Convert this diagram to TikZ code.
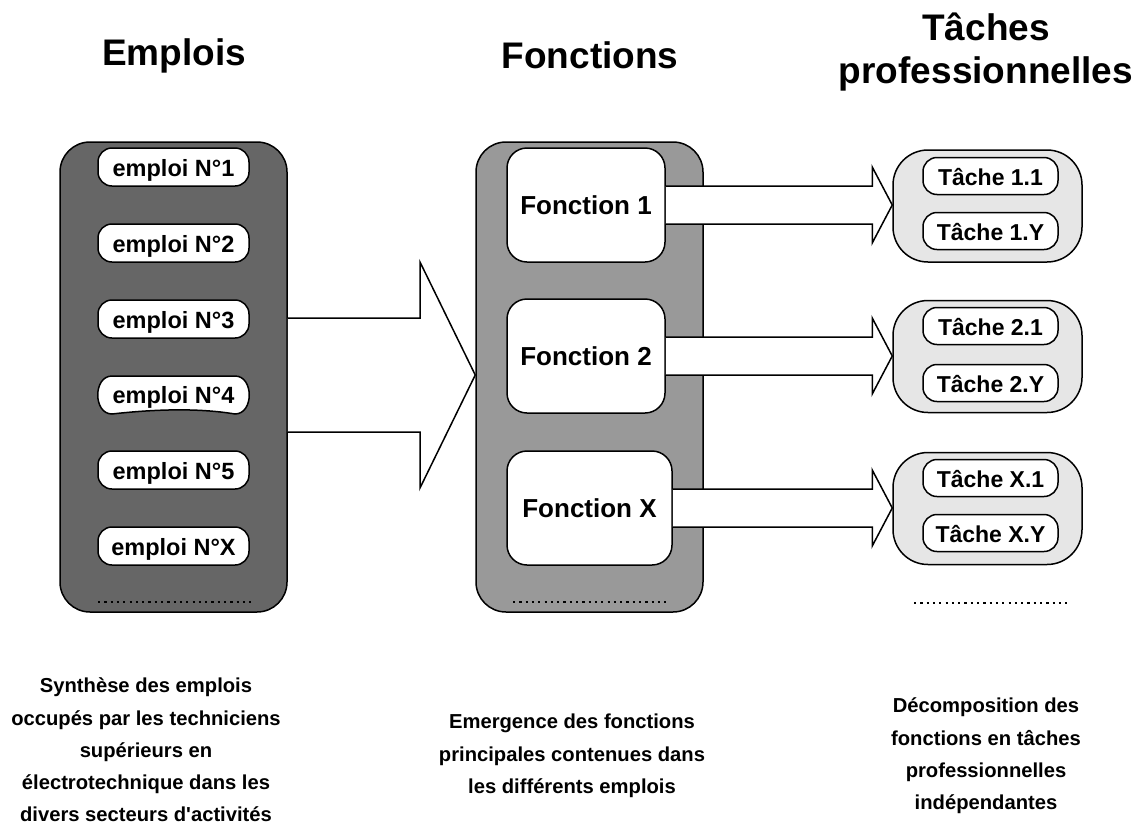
\documentclass[tikz,border=0pt]{standalone}
\usepackage{fontspec}
\setmainfont{Liberation Sans}[Ligatures=TeXOff]
\usetikzlibrary{calc}
\definecolor{darkg}{HTML}{666666}
\definecolor{midg}{HTML}{999999}
\definecolor{lightg}{HTML}{E6E6E6}
\newcommand\flecheS[2]{%
  \fill[white] ($(#1.east)+(0,-19)$) -- ($(#1.east -| #2.west)+(-20,-19)$) -- ($(#1.east -| #2.west)+(-20,-38)$)
    -- (#1.east -| #2.west) -- ($(#1.east -| #2.west)+(-20,38)$) -- ($(#1.east -| #2.west)+(-20,19)$) -- ($(#1.east)+(0,19)$) -- cycle;
  \draw[outline] ($(#1.east)+(0,-19)$) -- ($(#1.east -| #2.west)+(-20,-19)$) -- ($(#1.east -| #2.west)+(-20,-38)$)
    -- (#1.east -| #2.west) -- ($(#1.east -| #2.west)+(-20,38)$) -- ($(#1.east -| #2.west)+(-20,19)$) -- ($(#1.east)+(0,19)$);
}
\begin{document}
\begin{tikzpicture}[x=1pt,y=-1pt,line join=miter,
  outline/.style={draw=black,line width=1.5pt},
  bigbox/.style={outline,rounded corners=30pt,minimum width=227pt,minimum height=470pt,inner sep=0pt},
  pill/.style={outline,fill=white,rounded corners=14pt,minimum width=151pt,minimum height=38pt,inner sep=0pt,text height=19pt,text depth=0pt,font=\fontsize{23.5}{27}\selectfont\bfseries},
  pilltext/.style={inner sep=0pt,text height=19pt,text depth=0pt,font=\fontsize{23.5}{27}\selectfont\bfseries},
  fbox/.style={outline,fill=white,rounded corners=20pt,minimum height=114pt,inner sep=0pt,font=\fontsize{26}{30}\selectfont\bfseries},
  gbox/.style={outline,fill=lightg,rounded corners=35pt,minimum width=189pt,minimum height=112pt,inner sep=0pt},
  tpill/.style={outline,fill=white,rounded corners=14pt,minimum width=135pt,minimum height=37pt,inner sep=0pt,text height=18.5pt,text depth=0pt,font=\fontsize{23}{27}\selectfont\bfseries},
  title/.style={inner sep=0pt,align=center,font=\fontsize{37}{43}\selectfont\bfseries},
  caption/.style={inner sep=0pt,align=center,font=\fontsize{20.2}{32.3}\selectfont\bfseries},
  dots/.style={line width=2.2pt,dash pattern=on 2.2pt off 4.1pt}
]
\useasboundingbox (0,0) rectangle (1137,825);

% titles
\node[title] (t1) at (174,56) {Emplois};
\node[title] (t2) at (590,55) {Fonctions};
\node[title] (t3) at (986,52) {Tâches\\professionnelles};

% big boxes
\node[bigbox,fill=darkg] (emplois) at (173.5,377) {};
\node[bigbox,fill=midg] (fonctions) at (589.5,377) {};

% emplois
\node[pill] (e1) at (173.5,167) {emploi N°1};
\node[pill] (e2) at (173.5,243) {emploi N°2};
\node[pill] (e3) at (173.5,319) {emploi N°3};
\draw[outline,fill=white] (112,376) -- (235,376) .. controls (254,376) and (254,414) .. (235,414)
   .. controls (205,409) and (165,408) .. (112,414) .. controls (93,414) and (93,376) .. (112,376) -- cycle;
\node[pilltext] (e4) at (173.5,394) {emploi N°4};
\node[pill] (e5) at (173.5,470) {emploi N°5};
\node[pill] (ex) at (173.5,546) {emploi N°X};
\draw[dots] (98,602) -- (251,602);

% big arrow
\coordinate (bigtip) at (fonctions.west |- 0,375);
\fill[white] (emplois.east |- 0,318) -- (420,318) -- (420,262) -- (bigtip) -- (420,488) -- (420,432) -- (emplois.east |- 0,432) -- cycle;
\draw[outline] (emplois.east |- 0,318) -- (420,318) -- (420,262) -- (bigtip) -- (420,488) -- (420,432) -- (emplois.east |- 0,432);

% fonctions
\node[fbox,minimum width=158pt] (f1) at (586,205) {Fonction 1};
\node[fbox,minimum width=158pt] (f2) at (586,356) {Fonction 2};
\node[fbox,minimum width=165pt] (fx) at (589.5,508) {Fonction X};
\draw[dots] (513,602) -- (667,602);

% taches groups
\node[gbox] (g1) at (987.5,206) {};
\node[gbox] (g2) at (987.5,356.5) {};
\node[gbox] (gx) at (987.5,508.5) {};
\node[tpill] (t11) at (990.5,176) {Tâche 1.1};
\node[tpill] (t1y) at (990.5,231) {Tâche 1.Y};
\node[tpill] (t21) at (990.5,326) {Tâche 2.1};
\node[tpill] (t2y) at (990.5,383) {Tâche 2.Y};
\node[tpill] (tx1) at (990.5,478) {Tâche X.1};
\node[tpill] (txy) at (990.5,533) {Tâche X.Y};
\draw[dots] (914,603) -- (1067,603);

% small arrows
\flecheS{f1}{g1}
\flecheS{f2}{g2}
\flecheS{fx}{gx}

% captions
\node[caption] (c1) at (146,750) {Synthèse des emplois\\occupés par les techniciens\\supérieurs en\\électrotechnique dans les\\divers secteurs d'activités};
\node[caption] (c2) at (572,756) {Emergence des fonctions\\principales contenues dans\\les différents emplois};
\node[caption] (c3) at (986,756) {Décomposition des\\fonctions en tâches\\professionnelles\\indépendantes};
\end{tikzpicture}
\end{document}
